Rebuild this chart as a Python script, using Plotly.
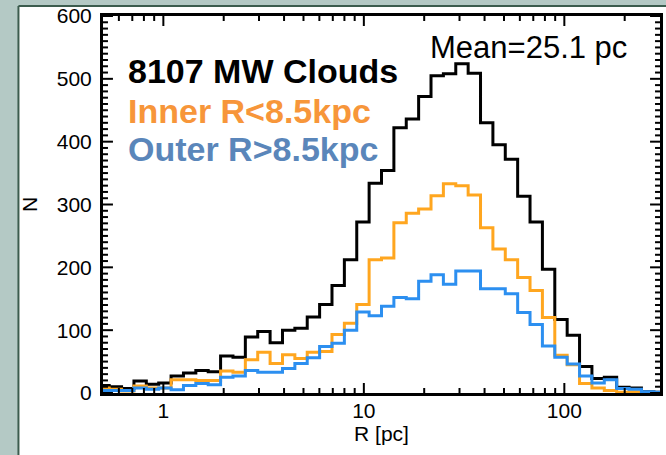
import numpy as np
import plotly.graph_objects as go

# Size distribution of molecular clouds: counts in 46 log-spaced radius bins
# whose centres run from 0.5 pc to 300 pc (drawn as a stepped histogram).
r_min, r_max, n_bins = 0.5, 300.0, 46
bin_centers = np.logspace(np.log10(r_min), np.log10(r_max), n_bins)

n_all = [12, 10, 7, 19, 14, 16, 27, 32, 36, 34,
         59, 57, 89, 98, 80, 100, 103, 121, 141, 171,
         212, 272, 334, 354, 422, 436, 472, 505, 508, 524,
         509, 430, 395, 372, 313, 272, 197, 117, 92, 42,
         23, 25, 9, 8, 2, 1]

n_inner = [8, 6, 3, 11, 8, 8, 21, 21, 20, 20,
           35, 33, 53, 65, 47, 61, 55, 65, 66, 93,
           111, 141, 212, 215, 271, 286, 293, 314, 333, 330,
           315, 263, 229, 212, 184, 163, 120, 60, 45, 15,
           8, 4, 1, 2, 0, 0]

n_outer = [4, 4, 4, 8, 6, 8, 5, 12, 15, 13,
           25, 27, 36, 33, 33, 39, 47, 56, 74, 79,
           100, 129, 123, 138, 152, 150, 178, 188, 173, 194,
           194, 166, 166, 158, 128, 109, 75, 57, 46, 27,
           16, 21, 7, 6, 2, 1]

x_ticks = [1, 10, 100]
x_tick_text = ["1", "10", "100"]
x_minor = [0.6, 0.7, 0.8, 0.9, 2, 3, 4, 5, 6, 7, 8, 9,
           20, 30, 40, 50, 60, 70, 80, 90, 200]
y_ticks = [0, 100, 200, 300, 400, 500, 600]
y_minor = [v for v in range(10, 600, 10) if v % 100]

# page geometry (pixels)
W, H = 666, 455
L, R, T, B = 103, 3, 16, 62
PW, PH = W - L - R, H - T - B


def px(xp):
    return (xp - L) / PW


def py(yp):
    return (H - B - yp) / PH


FONT = "Liberation Sans, Arial, Helvetica, sans-serif"
SLIDE = "#b4c9c5"
FRAME = "#3c5c4e"
MAJOR_LEN, MINOR_LEN = 10, 5
X_LOG = [np.log10(r_min), np.log10(r_max)]
Y_RANGE = [0, 600]
DEX_PER_PX = (X_LOG[1] - X_LOG[0]) / PW
N_PER_PX = (Y_RANGE[1] - Y_RANGE[0]) / PH

fig = go.Figure()
series = [
    ("All clouds", n_all, "#000000"),
    ("Inner", n_inner, "#ffa61f"),
    ("Outer", n_outer, "#2c8ff0"),
]
for name, counts, color in series:
    fig.add_trace(go.Scatter(
        x=bin_centers, y=counts, name=name, mode="lines",
        line=dict(shape="hvh", color=color, width=3),
        showlegend=False, hoverinfo="x+y",
    ))

# inward tick marks on all four sides of the frame, as one line trace
tx, ty = [], []
for vals, n in ((y_ticks, MAJOR_LEN), (y_minor, MINOR_LEN)):
    for v in vals:
        tx += [r_min, 10 ** (X_LOG[0] + n * DEX_PER_PX), None,
               10 ** (X_LOG[1] - n * DEX_PER_PX), r_max, None]
        ty += [v, v, None, v, v, None]
for vals, n in ((x_ticks, MAJOR_LEN), (x_minor, MINOR_LEN)):
    for v in vals:
        tx += [v, v, None, v, v, None]
        ty += [Y_RANGE[0], Y_RANGE[0] + n * N_PER_PX, None,
               Y_RANGE[1] - n * N_PER_PX, Y_RANGE[1], None]
fig.add_trace(go.Scatter(
    x=tx, y=ty, mode="lines", line=dict(color="black", width=2),
    connectgaps=False, cliponaxis=False, showlegend=False,
    hoverinfo="skip",
))

fig.update_xaxes(
    type="log", range=X_LOG,
    tickmode="array", tickvals=x_ticks, ticktext=x_tick_text,
    ticks="", showline=True, linecolor="black", linewidth=3, mirror=True,
    showgrid=False, zeroline=False,
    tickfont=dict(family=FONT, size=21, color="black"),
    title=dict(text="R [pc]", font=dict(family=FONT, size=21, color="black"),
               standoff=0),
    ticklabelstandoff=-3,
)
fig.update_yaxes(
    range=Y_RANGE, tickmode="array", tickvals=y_ticks,
    ticks="", showline=True, linecolor="black", linewidth=3, mirror=True,
    showgrid=False, zeroline=False,
    tickfont=dict(family=FONT, size=21, color="black"),
    title=dict(text="N", font=dict(family=FONT, size=21, color="black"),
               standoff=14),
    ticklabelstandoff=4,
)

# slide background strips along the left and top, with the panel frame
fig.add_shape(type="rect", xref="paper", yref="paper",
              x0=px(-5), x1=px(18), y0=py(470), y1=py(-5),
              line=dict(width=0), fillcolor=SLIDE, layer="above")
fig.add_shape(type="rect", xref="paper", yref="paper",
              x0=px(-5), x1=px(680), y0=py(6), y1=py(-5),
              line=dict(width=0), fillcolor=SLIDE, layer="above")
fig.add_shape(type="line", xref="paper", yref="paper",
              x0=px(18), x1=px(18), y0=py(470), y1=py(6),
              line=dict(color=FRAME, width=2), layer="above")
fig.add_shape(type="line", xref="paper", yref="paper",
              x0=px(18), x1=px(680), y0=py(6), y1=py(6),
              line=dict(color=FRAME, width=2), layer="above")

labels = [
    ("<b>8107 MW Clouds</b>", 126, 71, "#000000"),
    ("<b>Inner R&lt;8.5kpc</b>", 126, 111, "#f7963a"),
    ("<b>Outer R&gt;8.5kpc</b>", 126, 149, "#5a86ba"),
]
for text, xl, ym, color in labels:
    fig.add_annotation(text=text, xref="paper", yref="paper",
                       x=px(xl), y=py(ym), xanchor="left", yanchor="middle",
                       showarrow=False,
                       font=dict(family=FONT, size=34, color=color))

fig.add_annotation(text="Mean=25.1 pc", xref="paper", yref="paper",
                   x=px(531), y=py(47), xanchor="center", yanchor="middle",
                   showarrow=False,
                   font=dict(family=FONT, size=31, color="black"))

fig.update_layout(
    width=W, height=H, autosize=False,
    margin=dict(l=L, r=R, t=T, b=B, pad=0),
    paper_bgcolor="white", plot_bgcolor="white",
    font=dict(family=FONT, color="black"),
)

fig.write_html("out.html")
